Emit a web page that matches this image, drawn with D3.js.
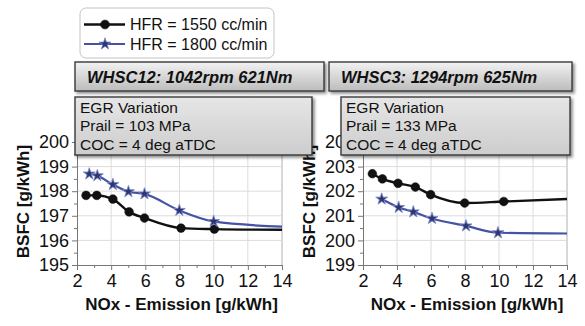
<!DOCTYPE html>
<html><head><meta charset="utf-8">
<script src="https://cdn.jsdelivr.net/npm/d3@7"></script>
<style>
html,body{margin:0;padding:0;background:#fff;}
svg{display:block;font-family:"Liberation Sans",Arial,sans-serif;}
</style></head>
<body><svg id="chart" width="585" height="326"></svg>
<script>
// ---- data ----
const seriesNames = ["HFR = 1550 cc/min", "HFR = 1800 cc/min"];
const xTicks = [2, 4, 6, 8, 10, 12, 14];
const leftYTicks = [195, 196, 197, 198, 199, 200];
const rightYTicks = [199, 200, 201, 202, 203, 204];
const leftTitle = "WHSC12: 1042rpm 621Nm";
const rightTitle = "WHSC3: 1294rpm 625Nm";
const leftNotes = ["EGR Variation", "Prail = 103 MPa", "COC = 4 deg aTDC"];
const rightNotes = ["EGR Variation", "Prail = 133 MPa", "COC = 4 deg aTDC"];
// left panel
const left1550X = [2.53, 3.16, 4.10, 5.05, 5.95, 8.09, 10.04];
const left1550Y = [197.83, 197.83, 197.68, 197.16, 196.91, 196.50, 196.46];
const left1800X = [2.72, 3.19, 4.10, 5.01, 5.95, 7.99, 10.00];
const left1800Y = [198.70, 198.63, 198.27, 197.98, 197.89, 197.22, 196.77];
const leftEndY = [196.43, 196.56];   // curve value at x = 14 (no marker)
// right panel
const right1550X = [2.55, 3.14, 4.06, 5.08, 5.98, 7.98, 10.28];
const right1550Y = [202.71, 202.50, 202.32, 202.17, 201.86, 201.52, 201.58];
const right1800X = [3.10, 4.10, 4.96, 6.06, 8.06, 9.94];
const right1800Y = [201.68, 201.34, 201.16, 200.89, 200.59, 200.31];
const rightEndY = [201.68, 200.28];

const colors = ["#111111", "#4553a6"];
const svg = d3.select("#chart");
const defs = svg.append("defs");
const f = defs.append("filter").attr("id","shadow").attr("x","-10%").attr("y","-10%").attr("width","130%").attr("height","140%");
f.append("feDropShadow").attr("dx",2).attr("dy",2).attr("stdDeviation",1.6).attr("flood-color","#000").attr("flood-opacity",0.45);
const g1 = defs.append("linearGradient").attr("id","titleGrad").attr("x1",0).attr("y1",0).attr("x2",0).attr("y2",1);
g1.append("stop").attr("offset","0%").attr("stop-color","#f2f2f2");
g1.append("stop").attr("offset","100%").attr("stop-color","#bcbcbc");
const g2 = defs.append("linearGradient").attr("id","noteGrad").attr("x1",0).attr("y1",0).attr("x2",0).attr("y2",1);
g2.append("stop").attr("offset","0%").attr("stop-color","#e6e6e6");
g2.append("stop").attr("offset","100%").attr("stop-color","#cdcdcd");

const starSym = d3.symbol().type(d3.symbolStar).size(44);
const circSym = d3.symbol().type(d3.symbolCircle).size(60);

function panel(cfg) {
  const x = d3.scaleLinear().domain([2, 14]).range([cfg.x0, cfg.x1]);
  const y = d3.scaleLinear().domain([cfg.yTicks[0], cfg.yTicks[cfg.yTicks.length-1]]).range([265, 142]);
  const g = svg.append("g");
  // grid
  g.selectAll(".vg").data(xTicks.slice(1)).join("line")
    .attr("x1", d => x(d)).attr("x2", d => x(d)).attr("y1", y.range()[1]).attr("y2", y.range()[0])
    .attr("stroke", d => d === 14 ? "#b0b0b0" : "#dcdcdc").attr("stroke-width", 1);
  g.selectAll(".hg").data(cfg.yTicks.slice(1)).join("line")
    .attr("x1", x(2)).attr("x2", x(14)).attr("y1", d => y(d)).attr("y2", d => y(d))
    .attr("stroke", "#dcdcdc").attr("stroke-width", 1);
  // axes
  const xAxis = d3.axisBottom(x).tickValues(xTicks).tickSize(5).tickPadding(4).tickFormat(d3.format("d"));
  const xMinor = d3.axisBottom(x).tickValues(d3.range(3, 14, 2)).tickSize(3).tickFormat("");
  const yAxis = d3.axisLeft(y).tickValues(cfg.yTicks).tickSize(5).tickPadding(3).tickFormat(d3.format("d"));
  const yMinor = d3.axisLeft(y).tickValues(cfg.yTicks.slice(0,-1).map(v => v + 0.5)).tickSize(3).tickFormat("");
  [xAxis, xMinor].forEach(ax => {
    const a = g.append("g").attr("transform", `translate(0,${y.range()[0]})`).call(ax);
    a.select(".domain").attr("stroke", "#777");
    a.selectAll(".tick line").attr("stroke", "#777");
    a.selectAll("text").attr("font-size", 18).attr("fill", "#111").attr("font-family", "Liberation Sans, Arial, sans-serif");
  });
  [yAxis, yMinor].forEach(ax => {
    const a = g.append("g").attr("transform", `translate(${x.range()[0]},0)`).call(ax);
    a.select(".domain").attr("stroke", "#777");
    a.selectAll(".tick line").attr("stroke", "#777");
    a.selectAll("text").attr("font-size", 18).attr("fill", "#111").attr("font-family", "Liberation Sans, Arial, sans-serif");
  });
  // axis titles
  g.append("text").attr("x", (cfg.x0 + cfg.x1) / 2 + 2).attr("y", 310).attr("text-anchor", "middle")
    .attr("font-weight", "bold").attr("font-size", 17).attr("fill", "#111").text("NOx - Emission [g/kWh]");
  g.append("text").attr("transform", `translate(${cfg.x0 - 54},${(y(cfg.yTicks[0]) + y(cfg.yTicks[5])) / 2 - 2}) rotate(-90)`)
    .attr("text-anchor", "middle").attr("dy", "0.35em")
    .attr("font-weight", "bold").attr("font-size", 17).attr("fill", "#111").text("BSFC [g/kWh]");
  // lines
  const line = d3.line().x(d => x(d[0])).y(d => y(d[1])).curve(d3.curveMonotoneX);
  cfg.series.forEach((s, i) => {
    const pts = s.xs.map((v, k) => [v, s.ys[k]]);
    const full = pts.concat([[14, s.end]]);
    g.append("path").attr("d", line(full)).attr("fill", "none")
      .attr("stroke", colors[i]).attr("stroke-width", i === 0 ? 2.4 : 2.2);
    g.selectAll(null).data(pts).join("path")
      .attr("transform", d => `translate(${x(d[0])},${y(d[1])})`)
      .attr("d", i === 0 ? circSym() : starSym())
      .attr("fill", i === 0 ? "#111" : "#2c3770")
      .attr("stroke", i === 0 ? "#111" : "#7d8acb").attr("stroke-width", i === 0 ? 0.5 : 0.9);
  });
}

panel({ x0: 77, x1: 282, yTicks: leftYTicks,
  series: [{ xs: left1550X, ys: left1550Y, end: leftEndY[0] }, { xs: left1800X, ys: left1800Y, end: leftEndY[1] }] });
panel({ x0: 363, x1: 567, yTicks: rightYTicks,
  series: [{ xs: right1550X, ys: right1550Y, end: rightEndY[0] }, { xs: right1800X, ys: right1800Y, end: rightEndY[1] }] });

// title boxes
[[75, 324, leftTitle], [329, 572, rightTitle]].forEach(([a, b, t]) => {
  svg.append("rect").attr("x", a).attr("y", 62).attr("width", b - a).attr("height", 29)
    .attr("fill", "url(#titleGrad)").attr("stroke", "#3a3a3a").attr("stroke-width", 1.4).attr("filter", "url(#shadow)");
  svg.append("text").attr("x", a + 12).attr("y", 83).attr("font-size", 16.5).attr("font-weight", "bold")
    .attr("font-style", "italic").attr("fill", "#111").text(t);
});
// annotation boxes
[[75, 312, leftNotes], [341, 570, rightNotes]].forEach(([a, b, lines]) => {
  svg.append("rect").attr("x", a).attr("y", 97).attr("width", b - a).attr("height", 58)
    .attr("fill", "url(#noteGrad)").attr("stroke", "#3a3a3a").attr("stroke-width", 1.4).attr("filter", "url(#shadow)");
  lines.forEach((l, k) => {
    svg.append("text").attr("x", a + 5).attr("y", 113 + k * 18.3).attr("font-size", 15.5).attr("fill", "#111").text(l);
  });
});

// legend
const lg = svg.append("g");
lg.append("rect").attr("x", 80).attr("y", 8).attr("width", 194).attr("height", 50).attr("rx", 6)
  .attr("fill", "#fff").attr("stroke", "#c4c4c4").attr("stroke-width", 1);
seriesNames.forEach((n, i) => {
  const yy = 24.5 + i * 19.5;
  lg.append("line").attr("x1", 84).attr("x2", 125).attr("y1", yy).attr("y2", yy)
    .attr("stroke", colors[i]).attr("stroke-width", i === 0 ? 2.4 : 2.2);
  lg.append("path").attr("transform", `translate(105,${yy})`).attr("d", i === 0 ? circSym() : starSym())
    .attr("fill", i === 0 ? "#111" : "#2c3770").attr("stroke", i === 0 ? "#111" : "#7d8acb").attr("stroke-width", 0.8);
  lg.append("text").attr("x", 130).attr("y", yy + 5.5).attr("font-size", 16).attr("fill", "#111").text(n);
});
</script></body></html>
